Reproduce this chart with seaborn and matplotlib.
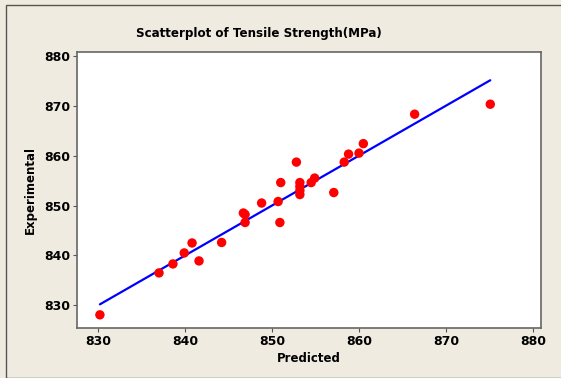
import matplotlib
matplotlib.use("Agg")
import matplotlib.pyplot as plt
import seaborn as sns
import pandas as pd
from matplotlib.patches import Rectangle

predicted = [830.2, 837.0, 838.6, 839.9, 840.8, 841.6, 844.2, 846.7, 846.9, 846.9,
             848.8, 850.7, 850.9, 851.0, 852.8, 853.2, 853.2, 853.2, 853.2, 854.5,
             854.9, 857.1, 858.3, 858.8, 860.0, 860.5, 866.4, 875.1]
experimental = [828.1, 836.5, 838.3, 840.5, 842.5, 838.9, 842.6, 848.5, 848.2, 846.6,
                850.5, 850.8, 846.6, 854.6, 858.7, 854.6, 853.8, 853.0, 852.2, 854.6,
                855.5, 852.6, 858.7, 860.3, 860.5, 862.4, 868.3, 870.3]
x_ticks = [830, 840, 850, 860, 870, 880]
y_ticks = [830, 840, 850, 860, 870, 880]

df = pd.DataFrame({"Predicted": predicted, "Experimental": experimental})

sns.set_style("white")
plt.rcParams["text.color"] = "black"
plt.rcParams["axes.labelcolor"] = "black"
plt.rcParams["xtick.color"] = "black"
plt.rcParams["ytick.color"] = "black"
bg = "#EFEBE1"
fig = plt.figure(figsize=(5.61, 3.78), dpi=100, facecolor=bg)
fig.patches.append(Rectangle((6/561, 0), 1, 1 - 5/378, transform=fig.transFigure,
                             fill=False, edgecolor="#555555", linewidth=1.0))
ax = fig.add_axes([77.3/561, 1-328.3/378, (540.7-77.3)/561, (328.3-52.3)/378])
ax.set_facecolor("white")

lo, hi = min(predicted), max(predicted)
ax.plot([lo, hi], [lo, hi], color="#0000FF", linewidth=1.6, zorder=2)
sns.scatterplot(data=df, x="Predicted", y="Experimental", ax=ax, color="#FF0000",
                s=46, edgecolor="none", zorder=3)

ax.set_xlim(827.6, 880.9)
ax.set_ylim(825.4, 880.7)
ax.set_xticks(x_ticks)
ax.set_yticks(y_ticks)
ax.set_xticklabels([str(t) for t in x_ticks], fontweight="bold", fontsize=9)
ax.set_yticklabels([str(t) for t in y_ticks], fontweight="bold", fontsize=9)
ax.tick_params(axis="both", direction="out", length=3, width=0.8, color="#555555",
               labelcolor="black", pad=2, bottom=True, left=True)
for sp in ax.spines.values():
    sp.set_color("#666666")
    sp.set_linewidth(1.2)
ax.set_xlabel("Predicted", fontweight="bold", fontsize=8.5, labelpad=3, color="black")
ax.set_ylabel("Experimental", fontweight="bold", fontsize=8.5, labelpad=5, color="black")
fig.text(259/561, 1 - 33/378, "Scatterplot of Tensile Strength(MPa)",
         ha="center", va="center", fontweight="bold", fontsize=8.6, color="black")

fig.savefig("out.png", dpi=100, facecolor=bg)
